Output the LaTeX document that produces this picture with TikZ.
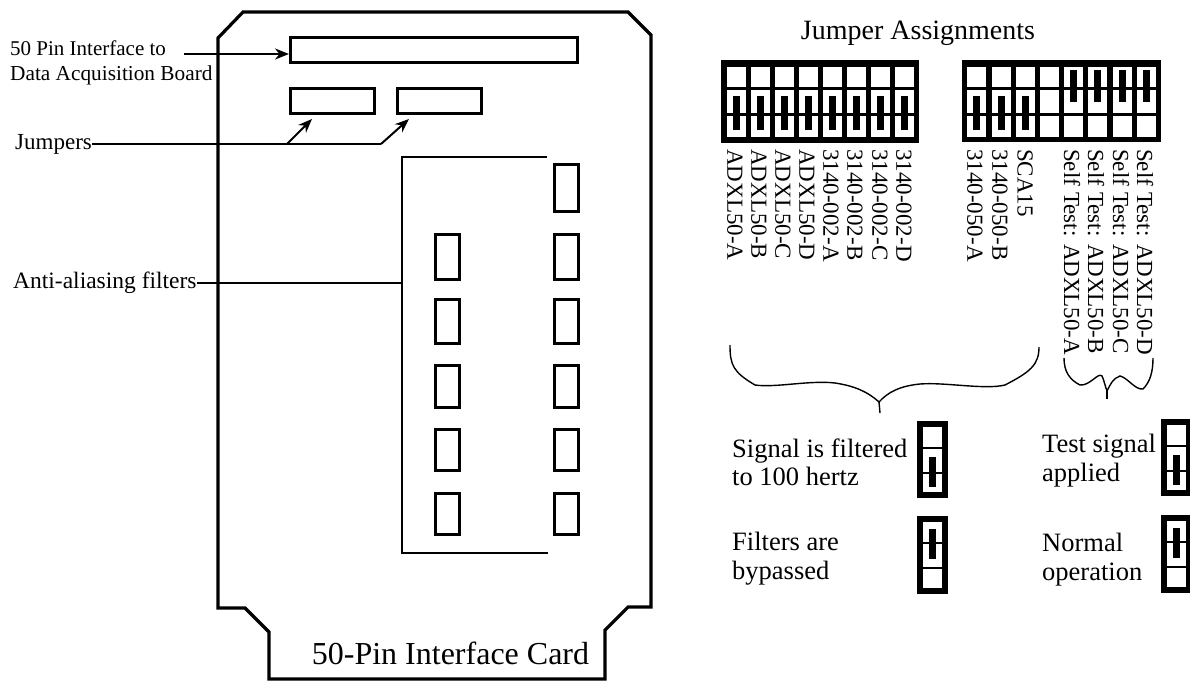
\documentclass[tikz,border=0pt]{standalone}
\usepackage{fontspec}
\setmainfont{Liberation Serif}
\usetikzlibrary{arrows.meta}

\begin{document}
\begin{tikzpicture}[x=1pt,y=-1pt,
		txt/.style args = {#1/#2}{%
			anchor=#1, inner sep=0pt, font=\fontsize{#2}{#2}\selectfont},
		multi/.style = {align=left, text depth=0pt},
		pcb/.style = {draw, line width=3pt, inner sep=0pt},
		filt/.style args = {#1/#2}{%
			pcb, minimum width=#1pt, minimum height=#2pt},
		ptr/.style = {line width=2pt, -{Stealth[length=14pt,width=11pt]}},
		bus/.style = {line width=2pt},
		brc/.style = {line width=1.4pt}
		]
		\useasboundingbox (0,0) rectangle (1190,682);
		\draw[line width=3.2pt, line join=miter]
			(218,38) -- (243,12) -- (628,12) -- (651,35) -- (651,607) -- (628,607)
			-- (605,630) -- (605,679) -- (269,679) -- (269,632) -- (245,608) -- (218,608) -- cycle;
		% board parts
		\node (conn) [filt=287/25]  at (434,50) {};
		\node (jmpA) [filt=84/25]   at (332.5,101) {};
		\node (jmpB) [filt=84/25]   at (439.5,101) {};
		\foreach \i/\cy/\hh in {1/188/47,2/257/45,3/321.5/44,4/386.5/42,5/450/41,6/514/41}
			\node (filtR\i) [filt=24/\hh] at (566.5,\cy) {};
		\foreach \i/\cy/\hh in {2/257/45,3/321.5/44,4/386.5/42,5/450/41,6/514/41}
			\node (filtL\i) [filt=24/\hh] at (447,\cy) {};
		\draw[line width=2pt] (547,157) -- (402,157) -- (402,553) -- (548,553);
		% labels on the left
		\node (lblConn) [txt=west/21] at (10,48) {50 Pin Interface to};
		\node (lblData) [txt=west/21.3] at (10,75) {Data Acquisition Board};
		\node (lblJump) [txt=west/23] at (15,144) {Jumpers};
		\node (lblAnti) [txt=west/23.5] at (13,283) {Anti-aliasing filters};
		\node (lblCard) [txt=center/32] at (450.5,653) {50-Pin Interface Card};
		\coordinate (connTail) at (184,54);
		\coordinate (jtA) at (287,144);
		\coordinate (jtB) at (381,144);
		\coordinate (antiEnd) at (402,283);
		\coordinate (tipA) at (312,119);
		\coordinate (tipB) at (409,119);
		\draw[ptr] (connTail) -- (connTail -| conn.west);
		\draw[bus] (lblJump.east) -- (jtA) -- (jtB);
		\foreach \from/\to in {jtA/tipA,jtB/tipB}
			\draw[ptr] (\from) -- (\to);
		\draw[bus] (lblAnti.east) -- (antiEnd);
		% jumper blocks
		\node (lblTitle) [txt=center/28] at (918,33) {Jumper Assignments};
		\fill (721,60) rectangle (919,143);
		\fill (962,60) rectangle (1161,142);
		\foreach \cx in {736,760,784,808,832,856,880,904,976,1001,1025,1049,1073,1097,1122,1146}{
			\fill[white] (\cx-9.5,67) rectangle (\cx+9.5,87);
			\fill[white] (\cx-9.5,90) rectangle (\cx+9.5,113);
			\fill[white] (\cx-9.5,116) rectangle (\cx+9.5,137);
		}
		\foreach \cx in {736,760,784,808,832,856,880,904,976,1001,1025}
			\fill (\cx-3.5,96) rectangle (\cx+3.5,130);
		\foreach \cx in {1073,1097,1122,1146}
			\fill (\cx-3.5,70) rectangle (\cx+3.5,102);
		% rotated names
		\foreach \i/\cx/\tx in {a/735/ADXL50-A,b/759/ADXL50-B,c/783/ADXL50-C,d/807/ADXL50-D,
				e/831/3140-002-A,f/855/3140-002-B,g/880/3140-002-C,h/904/3140-002-D,
				k/975/3140-050-A,l/1000/3140-050-B,m/1025/SCA15,
				n/1072/Self Test: ADXL50-A,o/1096/Self Test: ADXL50-B,
				p/1121/Self Test: ADXL50-C,q/1145/Self Test: ADXL50-D}
			\node (name\i) [txt=west/23, rotate=-90] at (\cx,149) {\tx};
		% braces
		\draw[brc] (730,345) .. controls (730,365) and (733,372) .. (755,385)
			.. controls (775,388) and (810,380) .. (835,383)
			.. controls (855,386) and (868,392) .. (879,402)
			.. controls (888,392) and (900,386) .. (920,384)
			.. controls (945,382) and (985,390) .. (1005,385)
			.. controls (1030,372) and (1039,365) .. (1039,347);
		\draw[brc] (879,402) -- (880,413);
		\draw[brc] (1064,358) .. controls (1064,372) and (1070,380) .. (1080,385)
			.. controls (1090,386) and (1098,372) .. (1102,376)
			.. controls (1104,380) and (1105,386) .. (1107,391)
			.. controls (1110,385) and (1113,378) .. (1120,376)
			.. controls (1128,378) and (1135,390) .. (1143,389)
			.. controls (1150,382) and (1153,372) .. (1153,358);
		\draw[brc] (1107,391) -- (1107,399);
		% legend
		\node (lblSig) [txt=west/26.5, multi] at (732,462) {Signal is filtered\\[2pt]to 100 hertz};
		\node (lblFil) [txt=west/26.5, multi] at (732,556) {Filters are\\[2pt]bypassed};
		\node (lblTst) [txt=west/26.5, multi] at (1042,458) {Test signal\\[2pt]applied};
		\node (lblNrm) [txt=west/26.5, multi] at (1042,557) {Normal\\[2pt]operation};
		\foreach \lx/\rx/\cx/\ty in {917/948/932/421,1161/1192/1176/419}{
			\fill (\lx,\ty) rectangle (\rx,\ty+77);
			\fill[white] (\cx-9.5,\ty+6) rectangle (\cx+9.5,\ty+26);
			\fill[white] (\cx-9.5,\ty+28) rectangle (\cx+9.5,\ty+71);
			\draw[brc] (\cx-9.5,\ty+52) -- (\cx+9.5,\ty+52);
			\fill (\cx-3.5,\ty+36) rectangle (\cx+3.5,\ty+66);
		}
		\foreach \lx/\rx/\cx/\ty in {917/948/932/516,1161/1192/1176/515}{
			\fill (\lx,\ty) rectangle (\rx,\ty+78);
			\fill[white] (\cx-9.5,\ty+6) rectangle (\cx+9.5,\ty+51);
			\fill[white] (\cx-9.5,\ty+53) rectangle (\cx+9.5,\ty+72);
			\draw[brc] (\cx-9.5,\ty+27) -- (\cx+9.5,\ty+27);
			\fill (\cx-3.5,\ty+13) rectangle (\cx+3.5,\ty+43);
		}
\end{tikzpicture}
\end{document}
